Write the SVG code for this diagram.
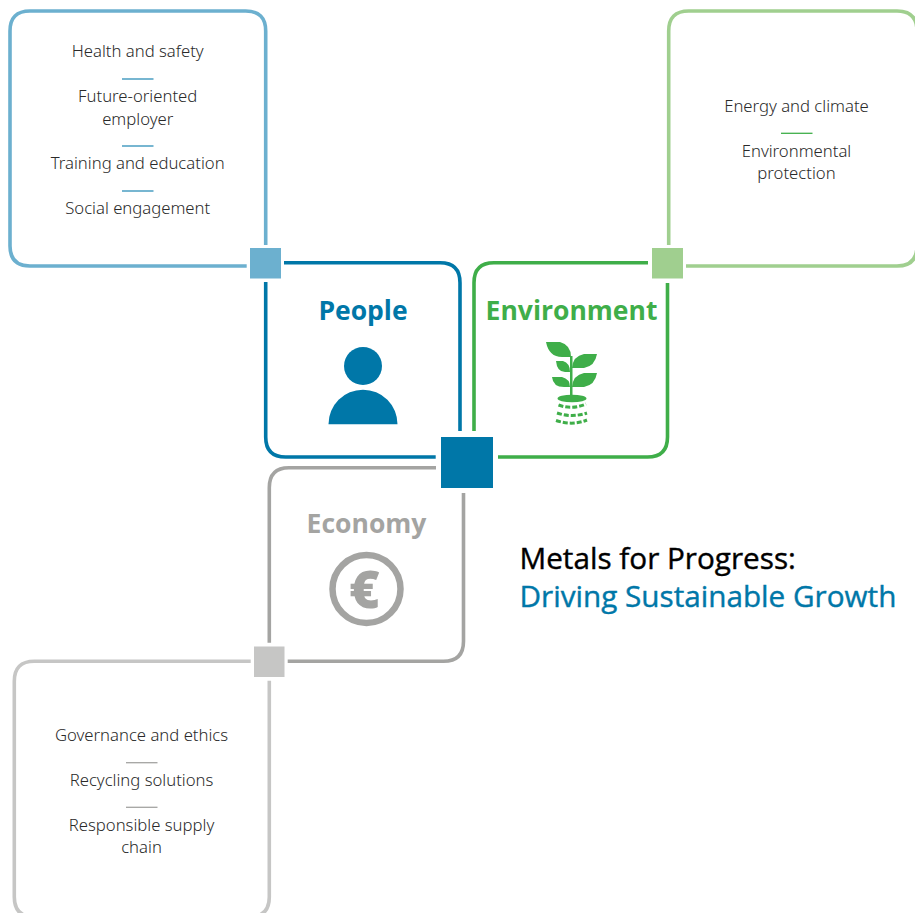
<svg xmlns="http://www.w3.org/2000/svg" width="915" height="913" viewBox="0 0 915 913">
<style>
.box{fill:none;stroke-width:3.6;stroke-linecap:butt}
.t{font-family:"Noto Sans","Open Sans","Liberation Sans",sans-serif;font-size:16.700px;fill:#2a2a2a;text-anchor:middle;font-weight:300}
.h{font-family:"Open Sans","Noto Sans","Liberation Sans",sans-serif;font-size:26.500px;font-weight:700;text-anchor:middle}
.m{font-family:"Open Sans","Noto Sans","Liberation Sans",sans-serif;font-size:29.700px;font-weight:500;stroke-width:.4}
.d{stroke-width:1.3;fill:none}
</style>
<rect width="915" height="913" fill="#fff"/>
<g id="connectors">
<path class="box" stroke="#6cb0cf" d="M265.700 245V31Q265.700 11 245.700 11H30Q10 11 10 31V246Q10 266 30 266H246.700"/>
<path class="box" stroke="#a0cf8f" d="M668.700 245V31Q668.700 11 688.700 11H897Q917 11 917 31V246Q917 266 897 266H686"/>
<path class="box" stroke="#c6c6c5" d="M250.700 661.300H34.300Q14.300 661.300 14.300 681.300V897Q14.300 917 34.300 917H249.300Q269.300 917 269.300 897V680.700"/>
<path class="box" stroke="#0077a8" d="M284 262.800H440Q460 262.800 460 282.800V431M265.700 282V437Q265.700 457 285.700 457H435.700"/>
<path class="box" stroke="#3fae49" d="M474 431V282.800Q474 262.800 494 262.800H648M667.500 283V437Q667.500 457 647.500 457H498"/>
<path class="box" stroke="#a4a4a2" d="M436 467.700H289Q269.300 467.700 269.300 487.700V642.700M463.500 493V641.300Q463.500 661.300 443.500 661.300H287.700"/>
</g>
<g id="people"><text class="h" x="363" y="320" fill="#0077a8">People</text>
<circle cx="363" cy="366" r="19" fill="#0077a8"/><path d="M328.500 424.200A34.500 34.500 0 0 1 397.500 424.200Z" fill="#0077a8"/></g>
<g id="environment"><text class="h" x="571.500" y="320" fill="#3fae49">Environment</text>
<g fill="#3fae49"><path d="M570 356H572.500V396H570Z"/>
<path d="M546 342H560Q571 345 571 357H562Q549 357 546 342ZM597 354H584Q573 356 572 368H584Q595 366 597 354ZM556 361H563Q570 363 570 372H565Q557 372 556 361ZM597 373H584Q573 375 572 387H584Q595 385 597 373ZM552 377H562Q570 379 570 387H564Q553 387 552 377Z"/><ellipse cx="572" cy="398.500" rx="14.500" ry="3.800"/></g>
<g fill="none" stroke="#3fae49" stroke-width="3" stroke-dasharray="5 2"><path d="M558.500 405Q572 410 586 404M557 413Q572 418 587 413M556 420.500Q572 426 587 420"/></g></g>
<g id="economy"><text class="h" x="366.500" y="533" fill="#a4a4a2">Economy</text>
<circle cx="366.500" cy="589" r="34" fill="none" stroke="#a4a4a2" stroke-width="6.500"/>
<text x="364.500" y="607.500" font-family="'Open Sans','Liberation Sans',sans-serif" font-size="52" font-weight="800" fill="#a4a4a2" text-anchor="middle">€</text></g>
<g id="hub"><rect x="441" y="437" width="52" height="51" fill="#0077a8"/></g>
<g id="sq-people"><rect x="250" y="248" width="31" height="30.500" fill="#6cb0cf"/></g>
<g id="sq-env"><rect x="652" y="248" width="31" height="30.500" fill="#a0cf8f"/></g>
<g id="sq-eco"><rect x="254" y="646.500" width="30.500" height="30.500" fill="#c6c6c5"/></g>
<g id="people-list">
<text class="t" x="137.700" y="57">Health and safety</text><path class="d" stroke="#2d8fb8" d="M122 79H153.500"/>
<text class="t" x="137.700" y="102">Future-oriented</text><text class="t" x="137.700" y="125">employer</text><path class="d" stroke="#2d8fb8" d="M122 146H153.500"/>
<text class="t" x="137.700" y="169">Training and education</text><path class="d" stroke="#2d8fb8" d="M122 191H153.500"/>
<text class="t" x="137.700" y="214">Social engagement</text></g>
<g id="env-list"><text class="t" x="796.500" y="112">Energy and climate</text><path class="d" stroke="#3fae49" d="M781 133.300H812.500"/>
<text class="t" x="796.500" y="157">Environmental</text><text class="t" x="796.500" y="179">protection</text></g>
<g id="eco-list"><text class="t" x="141.500" y="741">Governance and ethics</text><path class="d" stroke="#a4a4a2" d="M126 762.700H157.500"/>
<text class="t" x="141.500" y="786">Recycling solutions</text><path class="d" stroke="#a4a4a2" d="M126 807.300H157.500"/>
<text class="t" x="141.500" y="831">Responsible supply</text><text class="t" x="141.500" y="853">chain</text></g>
<g id="title"><text class="m" x="519.500" y="568.500" fill="#000" stroke="#000">Metals for Progress:</text><text class="m" x="519.500" y="606.700" fill="#0077a8" stroke="#0077a8">Driving Sustainable Growth</text></g>
</svg>
